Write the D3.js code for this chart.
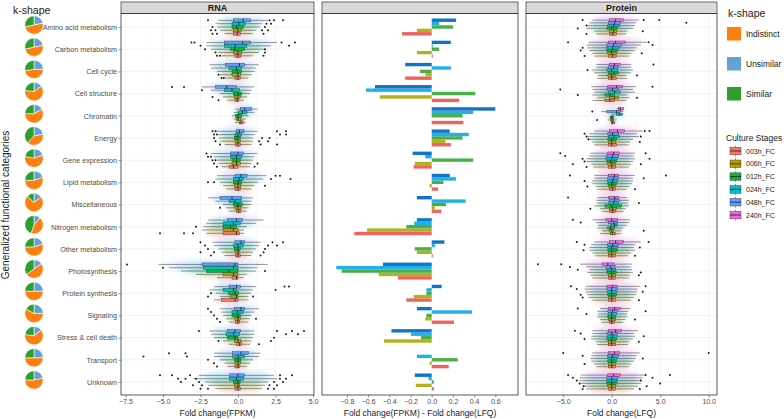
<!DOCTYPE html>
<html>
<head>
<meta charset="utf-8">
<script src="https://cdn.jsdelivr.net/npm/d3@7"></script>
<style>
  body { margin: 0; background: #fff; }
  text { font-family: "Liberation Sans", Arial, sans-serif; }
</style>
</head>
<body>
<svg width="784" height="419"></svg>
<script>
var categories = ["Amino acid metabolism", "Carbon metabolism", "Cell cycle", "Cell structure", "Chromatin",
    "Energy", "Gene expression", "Lipid metabolism", "Miscellaneous", "Nitrogen metabolism", "Other metabolism",
    "Photosynthesis", "Protein synthesis", "Signaling", "Stress & cell death", "Transport", "Unknown"];

var stages = ["003h_FC", "006h_FC", "012h_FC", "024h_FC", "048h_FC", "240h_FC"];
var stageColors = ["#F8766D", "#B79F00", "#00BA38", "#00BFC4", "#619CFF", "#F564E3"];
var diffColors = ["#ef6262", "#b3b21e", "#4cae47", "#20b0ea", "#0e76c4"];

var kshapes = ["Indistinct", "Unsimilar", "Similar"];
var kshapeColors = ["#ff7f0e", "#62a3d5", "#2ca02c"];
// share of genes per category: Indistinct, Unsimilar, Similar
var kshapeShares = [
    [0.50, 0.22, 0.28], [0.50, 0.22, 0.28], [0.48, 0.25, 0.27], [0.62, 0.15, 0.23],
    [0.58, 0.17, 0.25], [0.40, 0.22, 0.38], [0.58, 0.20, 0.22], [0.55, 0.20, 0.25],
    [0.72, 0.15, 0.13], [0.43, 0.12, 0.45], [0.55, 0.20, 0.25], [0.50, 0.15, 0.35],
    [0.50, 0.25, 0.25], [0.58, 0.25, 0.17], [0.62, 0.15, 0.23], [0.50, 0.25, 0.25],
    [0.53, 0.22, 0.25]
];

// RNA fold change boxplots [lower whisker, q1, median, q3, upper whisker], stages 003h..048h
var rnaStats = [
    [[-0.9, -0.3, -0.05, 0.15, 1.0], [-1.2, -0.3, 0.0, 0.25, 1.2], [-1.4, -0.4, -0.1, 0.35, 1.5], [-1.5, -0.4, 0.05, 0.5, 1.6], [-1.3, -0.3, 0.35, 0.85, 2.0]],
    [[-1.1, -0.2, 0.0, 0.2, 1.0], [-1.3, -0.3, 0.0, 0.25, 1.4], [-1.8, -0.5, -0.2, 0.45, 1.8], [-2.1, -0.9, -0.2, 0.6, 2.2], [-2.1, -0.9, 0.3, 0.85, 2.6]],
    [[-0.9, -0.2, 0.0, 0.15, 0.7], [-1.2, -0.4, 0.0, 0.15, 0.9], [-1.4, -0.4, -0.05, 0.25, 1.1], [-1.8, -0.6, -0.1, 0.25, 1.2], [-1.9, -0.85, 0.1, 0.45, 1.4]],
    [[-0.7, -0.2, -0.05, 0.05, 0.4], [-1.0, -0.25, 0.0, 0.15, 0.6], [-1.2, -0.3, 0.0, 0.25, 0.8], [-1.8, -0.9, -0.4, 0.1, 0.9], [-2.4, -1.5, -0.75, -0.1, 1.1]],
    [[-0.2, 0.1, 0.2, 0.35, 0.5], [-0.3, -0.1, 0.0, 0.2, 0.5], [-0.4, -0.15, 0.0, 0.25, 0.7], [-0.3, 0.0, 0.3, 0.6, 1.1], [-0.2, 0.15, 0.45, 0.9, 1.3]],
    [[-0.9, -0.15, 0.0, 0.15, 0.9], [-1.2, -0.2, 0.0, 0.15, 1.0], [-1.3, -0.25, -0.05, 0.15, 1.0], [-1.3, -0.2, 0.0, 0.25, 1.1], [-1.5, -0.1, 0.1, 0.4, 1.3]],
    [[-1.1, -0.55, -0.3, 0.0, 0.8], [-1.3, -0.4, -0.1, 0.15, 0.9], [-1.4, -0.4, -0.1, 0.15, 1.0], [-1.6, -0.5, -0.1, 0.25, 1.1], [-1.8, -0.5, 0.0, 0.35, 1.3]],
    [[-0.8, -0.2, 0.0, 0.15, 0.9], [-1.0, -0.25, 0.0, 0.2, 1.1], [-1.2, -0.3, 0.0, 0.25, 1.3], [-1.5, -0.3, 0.1, 0.35, 1.7], [-1.4, -0.2, 0.2, 0.6, 1.9]],
    [[-0.6, -0.1, 0.05, 0.2, 0.6], [-0.8, -0.2, 0.0, 0.2, 0.7], [-1.0, -0.3, 0.0, 0.3, 0.9], [-1.5, -0.6, -0.2, 0.2, 0.9], [-2.0, -1.2, -0.4, 0.25, 1.0]],
    [[-2.1, -1.0, -0.1, 0.1, 0.4], [-2.4, -1.0, -0.3, 0.0, 0.4], [-2.3, -1.0, -0.5, -0.1, 0.6], [-2.1, -1.0, -0.3, 0.15, 1.2], [-2.0, -0.7, -0.1, 0.3, 1.7]],
    [[-0.9, -0.15, 0.0, 0.15, 0.9], [-1.1, -0.2, 0.0, 0.1, 1.0], [-1.3, -0.25, 0.0, 0.15, 1.2], [-1.6, -0.3, 0.0, 0.35, 1.4], [-1.7, -0.2, 0.2, 0.45, 1.5]],
    [[-1.4, -0.4, -0.1, 0.0, 0.4], [-2.8, -1.0, -0.3, 0.0, 0.6], [-3.8, -2.1, -0.6, 0.0, 1.2], [-4.6, -2.3, -0.3, 0.0, 1.3], [-5.3, -2.4, -0.2, 0.0, 2.0]],
    [[-1.6, -1.1, -0.2, 0.0, 0.7], [-1.2, -0.5, -0.1, 0.0, 0.7], [-1.5, -0.65, -0.2, 0.05, 0.9], [-1.9, -1.0, -0.3, -0.1, 1.0], [-1.6, -0.6, -0.1, 0.15, 1.2]],
    [[-0.6, -0.15, 0.0, 0.1, 0.7], [-0.8, -0.2, 0.0, 0.15, 0.8], [-1.0, -0.4, 0.0, 0.15, 0.9], [-1.1, -0.4, -0.05, 0.35, 1.1], [-1.2, -0.25, 0.2, 0.45, 1.4]],
    [[-0.6, -0.1, 0.1, 0.25, 0.8], [-1.0, -0.25, 0.0, 0.2, 0.9], [-1.6, -0.7, -0.2, 0.0, 1.0], [-1.8, -0.8, -0.3, 0.1, 1.1], [-1.9, -0.7, -0.2, 0.15, 1.1]],
    [[-0.7, -0.2, 0.0, 0.1, 0.6], [-0.9, -0.2, 0.0, 0.15, 0.8], [-1.2, -0.25, 0.0, 0.2, 1.0], [-1.6, -0.35, 0.0, 0.45, 1.4], [-1.6, -0.35, 0.2, 0.7, 1.5]],
    [[-1.5, -0.2, 0.0, 0.15, 1.6], [-2.0, -0.25, 0.0, 0.1, 1.8], [-2.2, -0.3, 0.0, 0.15, 2.0], [-3.0, -0.55, -0.1, 0.35, 2.6], [-2.6, -0.55, 0.0, 0.45, 2.4]]
];

// Protein fold change boxplots, stages 003h..240h
var proteinStats = [
    [[-1.6, -0.2, 0.1, 0.5, 1.5], [-1.8, -0.2, 0.2, 0.5, 1.6], [-2.6, -0.5, 0.0, 0.6, 2.2], [-2.5, -0.4, 0.2, 0.8, 2.4], [-2.3, -0.3, 0.3, 0.9, 2.5], [-2.0, -0.2, 0.4, 1.2, 2.8]],
    [[-1.8, -0.3, 0.1, 0.5, 1.8], [-2.0, -0.4, 0.0, 0.5, 2.0], [-2.3, -0.5, 0.0, 0.6, 2.4], [-2.5, -0.5, 0.1, 0.8, 2.6], [-2.6, -0.5, 0.2, 1.0, 3.0], [-2.4, -0.3, 0.4, 1.4, 3.6]],
    [[-1.5, -0.3, 0.0, 0.5, 1.6], [-1.4, -0.4, 0.0, 0.4, 1.5], [-1.8, -0.3, 0.2, 0.7, 2.0], [-2.0, -0.5, 0.0, 0.6, 2.2], [-1.6, -0.3, 0.2, 0.7, 2.0], [-1.6, -0.2, 0.3, 0.9, 2.0]],
    [[-2.0, -0.7, -0.2, 0.3, 1.5], [-1.5, -0.2, 0.3, 0.7, 1.8], [-2.0, -0.7, -0.2, 0.3, 1.6], [-1.8, -0.3, 0.3, 0.9, 2.4], [-2.0, -0.5, 0.1, 0.7, 2.2], [-2.1, -0.4, 0.5, 1.1, 2.5]],
    [[-0.1, 0.0, 0.1, 0.3, 0.4], [-0.4, -0.1, 0.05, 0.2, 0.5], [-0.3, -0.1, 0.0, 0.2, 0.3], [0.0, 0.5, 0.8, 1.1, 1.2], [-1.1, -0.5, 0.5, 0.9, 1.2], [0.5, 0.7, 0.9, 1.2, 1.3]],
    [[-1.8, -0.3, 0.0, 0.5, 1.8], [-2.0, -0.3, 0.0, 0.4, 1.9], [-2.4, -0.4, 0.0, 0.5, 2.2], [-2.5, -0.3, 0.2, 0.8, 2.8], [-2.3, -0.4, 0.1, 0.7, 2.6], [-1.8, -0.2, 0.6, 1.3, 3.2]],
    [[-1.9, -0.3, 0.0, 0.4, 1.8], [-2.1, -0.4, 0.0, 0.4, 2.0], [-2.6, -0.5, -0.1, 0.5, 2.2], [-2.6, -0.6, 0.0, 0.6, 2.4], [-2.3, -0.5, 0.1, 0.7, 2.3], [-2.2, -0.4, 0.2, 0.8, 2.4]],
    [[-1.5, -0.2, 0.1, 0.4, 1.6], [-1.6, -0.3, 0.0, 0.4, 1.8], [-2.0, -0.4, 0.0, 0.5, 2.1], [-2.0, -0.4, 0.1, 0.6, 2.2], [-1.8, -0.4, 0.2, 0.7, 2.2], [-1.8, -0.3, 0.3, 0.7, 2.4]],
    [[-1.0, -0.2, 0.1, 0.4, 1.2], [-1.2, -0.2, 0.1, 0.5, 1.4], [-1.8, -0.7, 0.0, 1.0, 1.8], [-1.5, -0.3, 0.2, 0.7, 1.7], [-1.6, -0.2, 0.3, 0.8, 1.8], [-1.5, -0.3, 0.3, 0.7, 1.6]],
    [[-1.2, -0.1, 0.1, 0.4, 1.0], [-1.0, -0.2, 0.0, 0.2, 1.0], [-1.5, -0.4, -0.1, 0.3, 1.2], [-1.4, -0.1, 0.3, 0.6, 1.6], [-1.6, -0.3, 0.2, 0.6, 1.8], [-2.0, -0.6, 0.0, 0.6, 1.9]],
    [[-1.7, -0.3, 0.0, 0.4, 1.7], [-2.0, -0.3, 0.0, 0.4, 2.0], [-2.3, -0.4, 0.0, 0.6, 2.4], [-2.3, -0.4, 0.0, 0.6, 2.3], [-2.1, -0.4, 0.1, 0.7, 2.4], [-1.8, -0.2, 0.4, 1.2, 3.0]],
    [[-2.0, -0.3, 0.0, 0.4, 1.8], [-2.2, -0.3, 0.0, 0.4, 1.9], [-2.5, -0.5, 0.0, 0.5, 2.2], [-2.3, -0.5, 0.0, 0.4, 2.1], [-2.6, -0.6, -0.1, 0.35, 2.0], [-3.3, -1.0, -0.4, 0.25, 2.1]],
    [[-2.0, -0.3, 0.0, 0.4, 2.0], [-2.4, -0.3, 0.0, 0.4, 2.3], [-2.5, -0.4, 0.0, 0.5, 2.5], [-2.7, -0.4, 0.0, 0.5, 2.6], [-2.8, -0.5, 0.0, 0.6, 2.7], [-2.7, -0.5, 0.1, 0.6, 2.9]],
    [[-1.1, -0.2, 0.0, 0.3, 1.2], [-1.2, -0.3, 0.0, 0.4, 1.4], [-1.5, -0.4, 0.0, 0.4, 1.6], [-1.4, -0.3, 0.0, 0.5, 1.6], [-1.5, -0.4, 0.1, 0.6, 1.7], [-1.2, -0.3, 0.3, 0.9, 1.9]],
    [[-1.5, -0.3, 0.0, 0.4, 1.7], [-1.6, -0.3, 0.0, 0.4, 1.8], [-2.1, -0.5, 0.0, 0.5, 2.2], [-2.1, -0.4, 0.1, 0.6, 2.4], [-2.0, -0.5, 0.0, 0.6, 2.3], [-2.0, -0.3, 0.4, 1.0, 2.7]],
    [[-1.6, -0.3, 0.0, 0.4, 1.8], [-1.8, -0.3, 0.0, 0.4, 2.0], [-2.1, -0.4, 0.0, 0.5, 2.3], [-2.2, -0.4, 0.0, 0.6, 2.5], [-2.1, -0.4, 0.1, 0.7, 2.6], [-2.0, -0.3, 0.3, 0.8, 2.9]],
    [[-2.6, -0.3, 0.0, 0.4, 2.3], [-2.9, -0.4, 0.0, 0.4, 2.7], [-3.2, -0.5, 0.0, 0.5, 3.0], [-3.3, -0.5, 0.0, 0.6, 3.1], [-3.3, -0.5, 0.0, 0.6, 3.2], [-3.2, -0.4, 0.2, 0.9, 3.4]]
];

// outliers: [category index, stage index, value]
var rnaOutliers = [
    [0, 4, -2.0], [0, 4, 2.1], [0, 4, 2.4], [0, 4, 3.0], [0, 3, 1.9], [0, 3, 2.2], [0, 2, -1.7], [0, 2, 1.8], [0, 1, -1.8], [0, 1, -1.5], [0, 1, 1.6], [0, 1, 2.0], [0, 0, -1.7], [0, 0, -1.4], [0, 0, 1.7],
    [1, 4, -3.1], [1, 4, -2.9], [1, 4, 2.9], [1, 4, 3.8], [1, 3, -2.5], [1, 3, 3.4], [1, 2, -2.2], [1, 2, 1.8], [1, 1, -1.5], [1, 1, 1.8], [1, 0, -1.4], [1, 0, -1.2], [1, 0, 1.7],
    [2, 0, -1.1], [2, 0, -0.95], [2, 1, -1.3],
    [3, 4, -4.4], [3, 4, -3.6], [3, 3, -2.4], [3, 1, -1.7], [3, 0, -1.3],
    [5, 4, -1.7], [5, 4, -1.5], [5, 4, 2.6], [5, 4, 3.2], [5, 3, -1.6], [5, 3, -1.4], [5, 3, 2.8], [5, 3, 3.2], [5, 2, -1.6], [5, 2, 1.6], [5, 2, 2.1], [5, 1, -1.5], [5, 1, 1.4], [5, 1, 2.0], [5, 0, -1.2], [5, 0, 1.5], [5, 0, 2.6],
    [6, 4, -2.1], [6, 3, -2.0], [6, 3, -1.8], [6, 2, -1.7], [6, 2, -1.5], [6, 1, -1.6], [6, 1, 1.3], [6, 0, -1.4], [6, 0, 1.1],
    [7, 4, 2.5], [7, 4, 2.8], [7, 3, 2.2], [7, 3, 3.5], [7, 2, -2.0], [7, 2, -1.6], [7, 1, 1.8],
    [8, 1, -1.2],
    [9, 0, -5.2], [9, 0, -3.6], [9, 0, -3.0], [9, 2, -2.8],
    [10, 4, -2.5], [10, 4, 2.3], [10, 4, 3.0], [10, 3, -2.2], [10, 3, 2.0], [10, 3, 2.6], [10, 2, -2.0], [10, 2, 1.8], [10, 1, -2.5], [10, 1, -1.6], [10, 1, 1.7], [10, 0, -1.8], [10, 0, 1.5],
    [11, 4, -7.4], [11, 3, -5.0], [11, 2, 1.8],
    [12, 4, 3.1], [12, 4, 3.4], [12, 3, 2.5], [12, 2, -1.8], [12, 1, -2.0], [12, 1, 1.0],
    [13, 4, -2.0], [13, 3, -1.8], [13, 2, -1.6], [13, 1, -1.4], [13, 0, -1.2], [13, 1, 1.2],
    [14, 4, -2.6], [14, 4, 2.6], [14, 4, 3.6], [14, 4, 4.4], [14, 3, 3.2], [14, 3, 4.0], [14, 2, 2.4], [14, 1, -1.3], [14, 1, 2.2], [14, 0, 1.4],
    [15, 4, -4.6], [15, 4, -3.5], [15, 3, -6.3], [15, 3, -3.4], [15, 2, -2.0], [15, 1, -1.6], [15, 0, -1.4],
    [16, 4, -5.2], [16, 4, -4.4], [16, 4, -3.2], [16, 4, 2.8], [16, 4, 3.6], [16, 3, -4.0], [16, 3, -3.5], [16, 3, -2.8], [16, 3, 2.8], [16, 3, 3.2], [16, 2, -3.8], [16, 2, -2.6], [16, 2, 2.4], [16, 2, 3.0], [16, 1, -3.0], [16, 1, -2.4], [16, 1, 2.1], [16, 1, 2.6], [16, 0, -2.5], [16, 0, -2.0], [16, 0, 2.0], [16, 0, 2.4]
];

var proteinOutliers = [
    [0, 5, -3.0], [0, 5, 3.3], [0, 5, 4.9], [0, 4, 7.7], [0, 3, -2.6], [0, 2, -3.5], [0, 1, 3.2], [0, 0, -2.6],
    [1, 5, -4.5], [1, 5, 3.8], [1, 4, 4.2], [1, 3, -3.0], [1, 2, -3.2], [1, 1, 3.1], [1, 0, -2.8],
    [2, 5, 4.3], [2, 3, -2.5], [2, 1, 2.6],
    [3, 5, 4.2], [3, 4, -5.3], [3, 2, -3.5], [3, 1, 2.6],
    [4, 4, -2.0], [4, 1, -1.5],
    [5, 5, 3.4], [5, 5, 3.9], [5, 4, -2.8], [5, 3, -2.6], [5, 3, 3.0], [5, 2, -2.4], [5, 1, 2.9],
    [6, 5, -5.3], [6, 5, 3.5], [6, 4, -4.8], [6, 3, -3.0], [6, 3, 3.9], [6, 2, -2.8], [6, 1, -4.0], [6, 1, 3.0], [6, 0, -2.6],
    [7, 5, -4.3], [7, 5, 5.6], [7, 4, 3.3], [7, 3, -2.8], [7, 1, -2.5], [7, 0, 2.4],
    [8, 5, -4.5], [8, 3, 2.8], [8, 1, -2.2],
    [9, 5, -4.0], [9, 4, -3.2], [9, 1, 3.3],
    [10, 5, -3.6], [10, 5, 3.8], [10, 4, -2.8], [10, 3, 2.9], [10, 2, -2.9], [10, 0, 2.4],
    [11, 5, -7.6], [11, 5, -5.2], [11, 4, -4.3], [11, 3, -3.5], [11, 2, 3.0], [11, 1, 2.8],
    [12, 5, -4.2], [12, 5, 3.5], [12, 4, -3.6], [12, 3, 3.2], [12, 2, -3.2], [12, 1, -3.0], [12, 0, 2.8],
    [13, 5, -3.5], [13, 4, 3.5], [13, 3, -2.6], [13, 1, 2.4],
    [14, 5, -3.8], [14, 4, -3.2], [14, 3, 3.3], [14, 2, -2.8], [14, 1, 2.8],
    [15, 5, 10.0], [15, 5, -5.0], [15, 4, -3.0], [15, 3, 3.2], [15, 1, -2.8],
    [16, 5, -4.5], [16, 5, 3.5], [16, 5, 6.0], [16, 4, -4.0], [16, 4, 4.2], [16, 3, -3.6], [16, 3, 3.0], [16, 2, -3.3], [16, 2, 5.0], [16, 1, -2.9], [16, 1, 3.6], [16, 0, -3.0], [16, 0, 2.9]
];

// Fold change(FPKM) - Fold change(LFQ), stages 003h..048h
var diffValues = [
    [-0.28, -0.14, 0.20, 0.07, 0.23],
    [0.01, -0.14, 0.07, 0.01, 0.18],
    [-0.25, -0.06, -0.11, 0.18, -0.25],
    [0.26, -0.49, 0.41, -0.62, -0.535],
    [0.30, 0.0, 0.29, 0.39, 0.60],
    [0.18, 0.13, 0.29, 0.35, 0.17],
    [-0.17, -0.16, 0.39, -0.06, -0.18],
    [0.06, -0.02, 0.11, 0.23, 0.17],
    [0.09, 0.03, 0.135, 0.32, -0.14],
    [-0.73, -0.61, -0.24, -0.165, -0.14],
    [0.01, -0.14, -0.16, 0.03, 0.12],
    [-0.32, -0.50, -0.85, -0.90, -0.46],
    [-0.24, -0.17, -0.05, -0.05, 0.094],
    [0.21, -0.06, -0.05, 0.38, -0.14],
    [0.0, -0.45, -0.10, -0.195, -0.38],
    [0.16, -0.02, 0.245, -0.14, 0.0],
    [0.02, -0.15, 0.02, -0.03, -0.16]
];

var rnaTicks = [-7.5, -5.0, -2.5, 0.0, 2.5, 5.0];
var rnaMinor = [-6.25, -3.75, -1.25, 1.25, 3.75];
var diffTicks = [-0.8, -0.6, -0.4, -0.2, 0.0, 0.2, 0.4, 0.6];
var protTicks = [-5.0, 0.0, 5.0, 10.0];
var protMinor = [-7.5, -2.5, 2.5, 7.5];

var svg = d3.select("svg");
var top0 = 13.5, bottom0 = 395;

var xRna = d3.scaleLinear().domain([-7.8, 5.067]).range([121, 314]);
var xDiff = d3.scaleLinear().domain([-1.035, 0.814]).range([322, 518]);
var xProt = d3.scaleLinear().domain([-8.835, 10.856]).range([526, 717]);
var yCat = d3.scalePoint().domain(categories).range([27, 382]);

var defs = svg.append("defs");
defs.append("filter").attr("id", "cloud")
    .attr("x", "-20%").attr("y", "-50%").attr("width", "140%").attr("height", "200%")
    .append("feGaussianBlur").attr("stdDeviation", 2.4);

function panelFrame(x, name, id) {
    var r = x.range();
    defs.append("clipPath").attr("id", id)
        .append("rect").attr("x", r[0]).attr("y", top0).attr("width", r[1] - r[0]).attr("height", bottom0 - top0);
    svg.append("rect").attr("x", r[0]).attr("y", 2).attr("width", r[1] - r[0]).attr("height", top0 - 2)
        .attr("fill", "#d9d9d9").attr("stroke", "#333").attr("stroke-width", 0.7);
    if (name) {
        svg.append("text").attr("x", (r[0] + r[1]) / 2).attr("y", 10.8).attr("text-anchor", "middle")
            .attr("font-size", 9).attr("font-weight", "bold").attr("fill", "#1a1a1a").text(name);
    }
}

function grid(x, major, minor) {
    var r = x.range();
    var g = svg.append("g");
    g.selectAll(".mi").data(minor).enter().append("line")
        .attr("x1", d => x(d)).attr("x2", d => x(d)).attr("y1", top0).attr("y2", bottom0)
        .attr("stroke", "#f2f2f2").attr("stroke-width", 0.4);
    g.selectAll(".hl").data(categories).enter().append("line")
        .attr("x1", r[0]).attr("x2", r[1]).attr("y1", d => yCat(d)).attr("y2", d => yCat(d))
        .attr("stroke", "#ebebeb").attr("stroke-width", 0.6);
    g.selectAll(".ma").data(major).enter().append("line")
        .attr("x1", d => x(d)).attr("x2", d => x(d)).attr("y1", top0).attr("y2", bottom0)
        .attr("stroke", "#ebebeb").attr("stroke-width", 0.6);
}

function boxPanel(x, stats, outliers, nStages, clipId) {
    var slot = 16.6 / nStages;
    var mid = (nStages - 1) / 2;
    var yPos = (i, k) => yCat(categories[i]) + (mid - k) * slot;
    var flat = [];
    stats.forEach((cat, i) => cat.forEach((s, k) => flat.push({ i: i, k: k, s: s })));

    // faint cloud of jittered points behind each box
    svg.append("g").attr("clip-path", "url(#" + clipId + ")").attr("filter", "url(#cloud)")
        .selectAll("ellipse").data(flat).enter().append("ellipse")
        .attr("cx", d => x((d.s[0] + d.s[4]) / 2))
        .attr("cy", d => yPos(d.i, d.k))
        .attr("rx", d => (x(d.s[4]) - x(d.s[0])) / 2 * 0.9)
        .attr("ry", 5)
        .attr("fill", d => stageColors[d.k])
        .attr("opacity", 0.19);

    var g = svg.append("g").attr("clip-path", "url(#" + clipId + ")");
    g.selectAll(".wh").data(flat).enter().append("line")
        .attr("x1", d => x(d.s[0])).attr("x2", d => x(d.s[4]))
        .attr("y1", d => yPos(d.i, d.k)).attr("y2", d => yPos(d.i, d.k))
        .attr("stroke", "#333").attr("stroke-width", 0.5);
    g.selectAll(".bx").data(flat).enter().append("rect")
        .attr("x", d => x(d.s[1])).attr("width", d => x(d.s[3]) - x(d.s[1]))
        .attr("y", d => yPos(d.i, d.k) - slot * 0.46).attr("height", slot * 0.92)
        .attr("fill", d => stageColors[d.k]).attr("stroke", "#333").attr("stroke-width", 0.4);
    g.selectAll(".md").data(flat).enter().append("line")
        .attr("x1", d => x(d.s[2])).attr("x2", d => x(d.s[2]))
        .attr("y1", d => yPos(d.i, d.k) - slot * 0.46).attr("y2", d => yPos(d.i, d.k) + slot * 0.46)
        .attr("stroke", "#1a1a1a").attr("stroke-width", 0.8);
    g.selectAll(".ol").data(outliers).enter().append("circle")
        .attr("cx", d => x(d[2])).attr("cy", d => yPos(d[0], d[1]))
        .attr("r", 1.0).attr("fill", "#1a1a1a");
}

function border(x) {
    var r = x.range();
    svg.append("rect").attr("x", r[0]).attr("y", top0).attr("width", r[1] - r[0]).attr("height", bottom0 - top0)
        .attr("fill", "none").attr("stroke", "#333").attr("stroke-width", 0.8);
}

function xAxis(x, ticks, title) {
    var ax = svg.append("g").attr("transform", "translate(0," + bottom0 + ")")
        .call(d3.axisBottom(x).tickValues(ticks).tickFormat(d3.format(".1f")).tickSize(2.5).tickPadding(2));
    ax.select(".domain").remove();
    ax.selectAll("line").attr("stroke", "#333").attr("stroke-width", 0.5);
    ax.selectAll("text").attr("font-size", 7).attr("fill", "#4d4d4d").attr("font-family", "Liberation Sans, Arial, sans-serif");
    var r = x.range();
    svg.append("text").attr("x", (r[0] + r[1]) / 2).attr("y", 416).attr("text-anchor", "middle")
        .attr("font-size", 8.5).attr("fill", "#1a1a1a").text(title);
}

// RNA panel
panelFrame(xRna, "RNA", "clipRna");
grid(xRna, rnaTicks, rnaMinor);
boxPanel(xRna, rnaStats, rnaOutliers, 5, "clipRna");
border(xRna);
xAxis(xRna, rnaTicks, "Fold change(FPKM)");

// difference panel
panelFrame(xDiff, "", "clipDiff");
var diffFlat = [];
diffValues.forEach((row, i) => row.forEach((v, k) => diffFlat.push({ i: i, k: k, v: v })));
var barSlot = 3.4;
svg.append("g").selectAll("rect").data(diffFlat).enter().append("rect")
    .attr("x", d => xDiff(Math.min(0, d.v)))
    .attr("width", d => Math.abs(xDiff(d.v) - xDiff(0)))
    .attr("y", d => yCat(categories[d.i]) + (2 - d.k) * barSlot - barSlot / 2)
    .attr("height", barSlot)
    .attr("fill", d => diffColors[d.k]);
border(xDiff);
xAxis(xDiff, diffTicks, "Fold change(FPKM) - Fold change(LFQ)");

// Protein panel
panelFrame(xProt, "Protein", "clipProt");
grid(xProt, protTicks, protMinor);
boxPanel(xProt, proteinStats, proteinOutliers, 6, "clipProt");
border(xProt);
xAxis(xProt, protTicks, "Fold change(LFQ)");

// category axis
var yAx = svg.append("g").attr("transform", "translate(121,0)")
    .call(d3.axisLeft(yCat).tickSize(2.5).tickPadding(1.5));
yAx.select(".domain").remove();
yAx.selectAll("line").attr("stroke", "#333").attr("stroke-width", 0.5);
yAx.selectAll("text").attr("font-size", 7.2).attr("fill", "#4d4d4d").attr("font-family", "Liberation Sans, Arial, sans-serif");

svg.append("text").attr("transform", "translate(9,205) rotate(-90)").attr("text-anchor", "middle")
    .attr("font-size", 10).attr("fill", "#1a1a1a").text("Generalized functional categories");

svg.append("text").attr("x", 13).attr("y", 14).attr("font-size", 10.5).attr("fill", "#1a1a1a").text("k-shape");

// pies of k-shape shares
var pieOrder = [1, 0, 2];
var pie = d3.pie().sort(null).value(d => d.v);
var arc = d3.arc().innerRadius(0).outerRadius(9.2);
categories.forEach((c, i) => {
    var parts = pieOrder.map(j => ({ v: kshapeShares[i][j], j: j }));
    svg.append("g").attr("transform", "translate(34," + (yCat(c) - 2) + ")")
        .selectAll("path").data(pie(parts)).enter().append("path")
        .attr("d", arc).attr("fill", d => kshapeColors[d.data.j])
        .attr("stroke", "#fff").attr("stroke-width", 0.6);
});

// legends
svg.append("text").attr("x", 728).attr("y", 17).attr("font-size", 10.5).attr("fill", "#1a1a1a").text("k-shape");
kshapes.forEach((k, i) => {
    svg.append("rect").attr("x", 727).attr("y", 27 + i * 30).attr("width", 14).attr("height", 13.5)
        .attr("fill", kshapeColors[i]);
    svg.append("text").attr("x", 746).attr("y", 36.5 + i * 30).attr("font-size", 8.5).attr("fill", "#1a1a1a").text(k);
});

svg.append("text").attr("x", 726).attr("y", 141).attr("font-size", 8.5).attr("fill", "#1a1a1a").text("Culture Stages");
stages.forEach((s, i) => {
    var cy = 151 + i * 12.8;
    var g = svg.append("g");
    g.append("line").attr("x1", 735.5).attr("x2", 735.5).attr("y1", cy - 5.5).attr("y2", cy + 5.5)
        .attr("stroke", "#333").attr("stroke-width", 0.5);
    g.append("rect").attr("x", 730).attr("y", cy - 3.8).attr("width", 11).attr("height", 7.6)
        .attr("fill", stageColors[i]).attr("stroke", "#333").attr("stroke-width", 0.4);
    g.append("line").attr("x1", 730).attr("x2", 741).attr("y1", cy).attr("y2", cy)
        .attr("stroke", "#1a1a1a").attr("stroke-width", 0.8);
    svg.append("text").attr("x", 746).attr("y", cy + 2.5).attr("font-size", 7).attr("fill", "#1a1a1a").text(s);
});
</script>
</body>
</html>
